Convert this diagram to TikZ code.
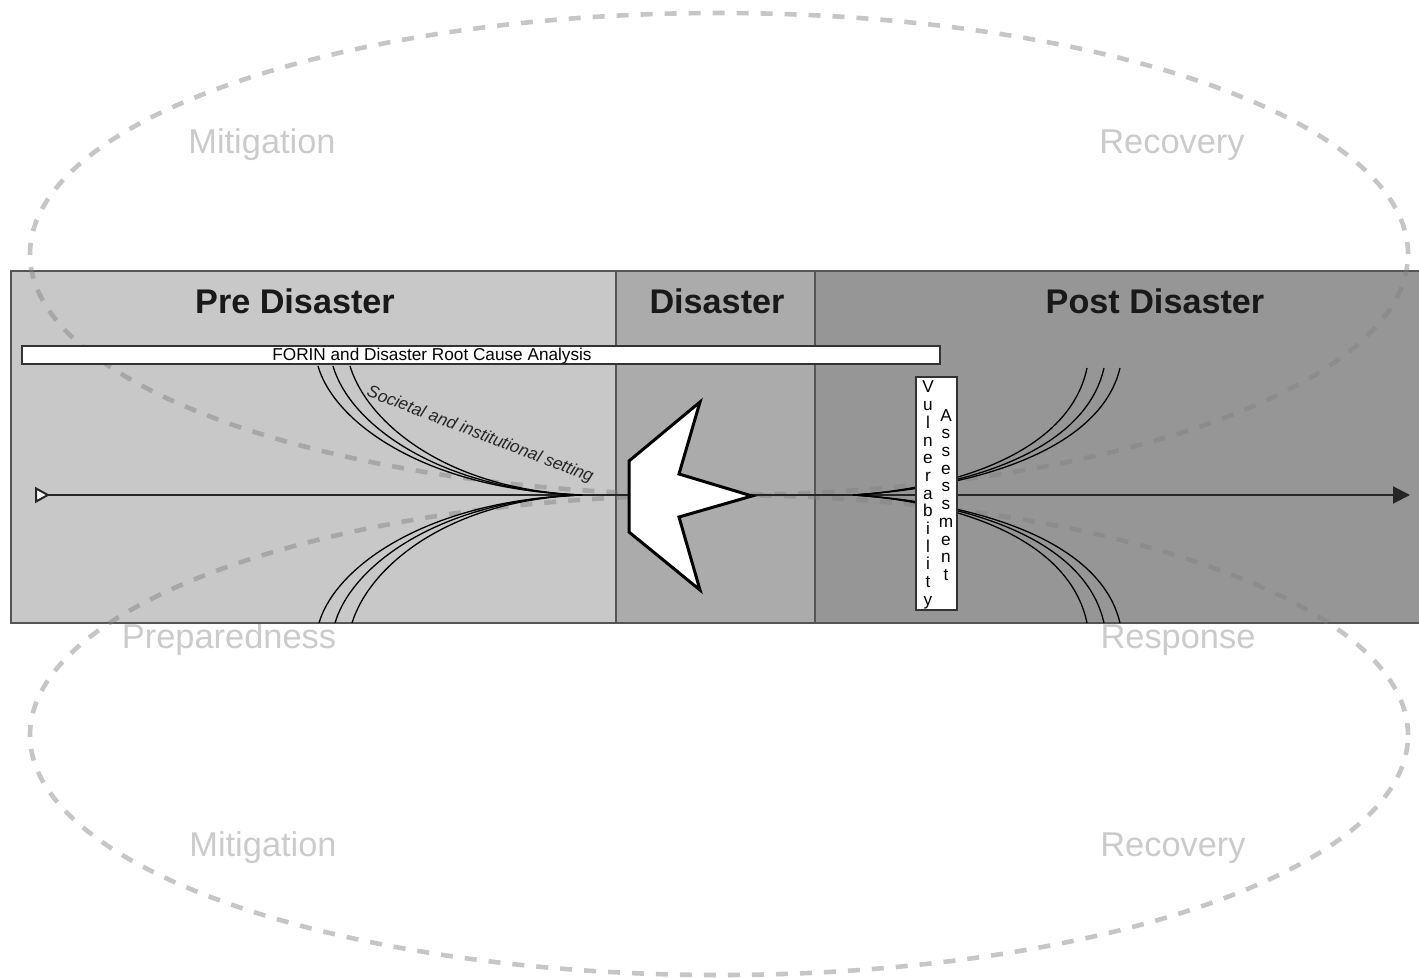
\documentclass[tikz,border=0pt]{standalone}
\usepackage{fontspec}
\setmainfont{Liberation Sans}
\usetikzlibrary{arrows.meta}
\definecolor{prec}{HTML}{C8C8C8}
\definecolor{disc}{HTML}{ABABAB}
\definecolor{postc}{HTML}{969696}
\definecolor{edgec}{HTML}{555555}
\definecolor{labc}{HTML}{CBCBCB}
\begin{document}
\begin{tikzpicture}[x=0.5pt,y=-0.5pt,
  phase/.style={text=labc,font=\fontsize{17.2}{20}\selectfont,inner sep=0pt},
  stagebox/.style={draw=edgec,line width=1pt,inner sep=0pt},
  heading/.style={font=\fontsize{17.1}{20}\selectfont\bfseries,text=black!90,inner sep=0pt},
  cycle/.style={draw=gray,draw opacity=0.45,line width=2.3pt,dash pattern=on 6pt off 6pt},
  axis/.style={draw=black!85,line width=1pt},
  fan/.style={draw=black,line width=0.65pt},
  small/.style={font=\fontsize{8.6}{8.85}\selectfont,inner sep=0pt},
  whitebox/.style={draw=black!80,fill=white,line width=0.8pt,inner sep=0pt}]
\useasboundingbox (0,0) rectangle (1419,978);

% phase labels (behind)
\node[phase] (mitA) at (262,145) {Mitigation};
\node[phase] (recA) at (1172,145) {Recovery};
\node[phase] (prep) at (229,640) {Preparedness};
\node[phase] (resp) at (1178,640) {Response};
\node[phase] (mitB) at (263,848) {Mitigation};
\node[phase] (recB) at (1173,848) {Recovery};

% stage boxes
\node[stagebox,fill=prec,minimum width=302.5pt,minimum height=176pt] (pre) at (313.5,447) {};
\node[stagebox,fill=disc,minimum width=99.5pt,minimum height=176pt] (dis) at (715.5,447) {};
\node[stagebox,fill=postc,minimum width=305pt,minimum height=176pt] (post) at (1120,447) {};
\node[heading] (preT) at (295,301) {Pre Disaster};
\node[heading] (disT) at (717,301) {Disaster};
\node[heading] (postT) at (1155,301) {Post Disaster};

% dashed cycle ellipses
\draw[cycle] (719,254) ellipse [x radius=344.5pt, y radius=120.5pt];
\draw[cycle] (719,735) ellipse [x radius=344.5pt, y radius=120pt];

% timeline axis
\coordinate (tstart) at (35,495);
\coordinate (tend) at (1410,495);
\draw[axis,{Triangle[reversed,fill=white,length=7.5pt,width=8pt,line width=1pt]}-{Triangle[length=8.5pt,width=8.5pt]}] (tstart) -- (tend);

% fans of lines
\coordinate (lconv) at (582,495);
\coordinate (rconv) at (853,495);
\draw[fan] (318,366) .. controls (335,425) and (430,490) .. (lconv);
\draw[fan] (333,366) .. controls (350,425) and (440,490) .. (lconv);
\draw[fan] (350,366) .. controls (368,425) and (450,490) .. (lconv);
\draw[fan] (319,623) .. controls (336,565) and (430,500) .. (lconv);
\draw[fan] (335,623) .. controls (352,565) and (440,500) .. (lconv);
\draw[fan] (352,623) .. controls (370,565) and (450,500) .. (lconv);
\draw[fan] (rconv) .. controls (960,488) and (1070,450) .. (1087,368);
\draw[fan] (rconv) .. controls (965,488) and (1085,452) .. (1104,368);
\draw[fan] (rconv) .. controls (970,488) and (1100,452) .. (1120,368);
\draw[fan] (rconv) .. controls (960,502) and (1070,540) .. (1087,623);
\draw[fan] (rconv) .. controls (965,502) and (1085,538) .. (1104,623);
\draw[fan] (rconv) .. controls (970,502) and (1100,538) .. (1120,623);

% FORIN bar
\node[whitebox,minimum width=459pt,minimum height=9pt] (forin) at (481,355) {};
\node[small] (forinT) at (432,356) {FORIN and Disaster Root Cause Analysis};
\node[small,font=\fontsize{8.6}{8.85}\selectfont\itshape,rotate=-21,text=black!85] (soc) at (480,435) {Societal and institutional setting};

% big white arrow
\draw[fill=white,draw=black,line width=1.5pt,line join=miter] (700,402) -- (629,461) -- (629,532) -- (700,590) -- (679,517) -- (752,496) -- (679,474) -- cycle;

% vulnerability assessment box
\node[whitebox,minimum width=20.5pt,minimum height=116.5pt] (vbox) at (936.5,493.5) {};
\node[small,align=center] (vul) at (928,495) {V\\u\\l\\n\\e\\r\\a\\b\\i\\l\\i\\t\\y};
\node[small,align=center] (ass) at (946,495) {A\\s\\s\\e\\s\\s\\m\\e\\n\\t};
\end{tikzpicture}
\end{document}
